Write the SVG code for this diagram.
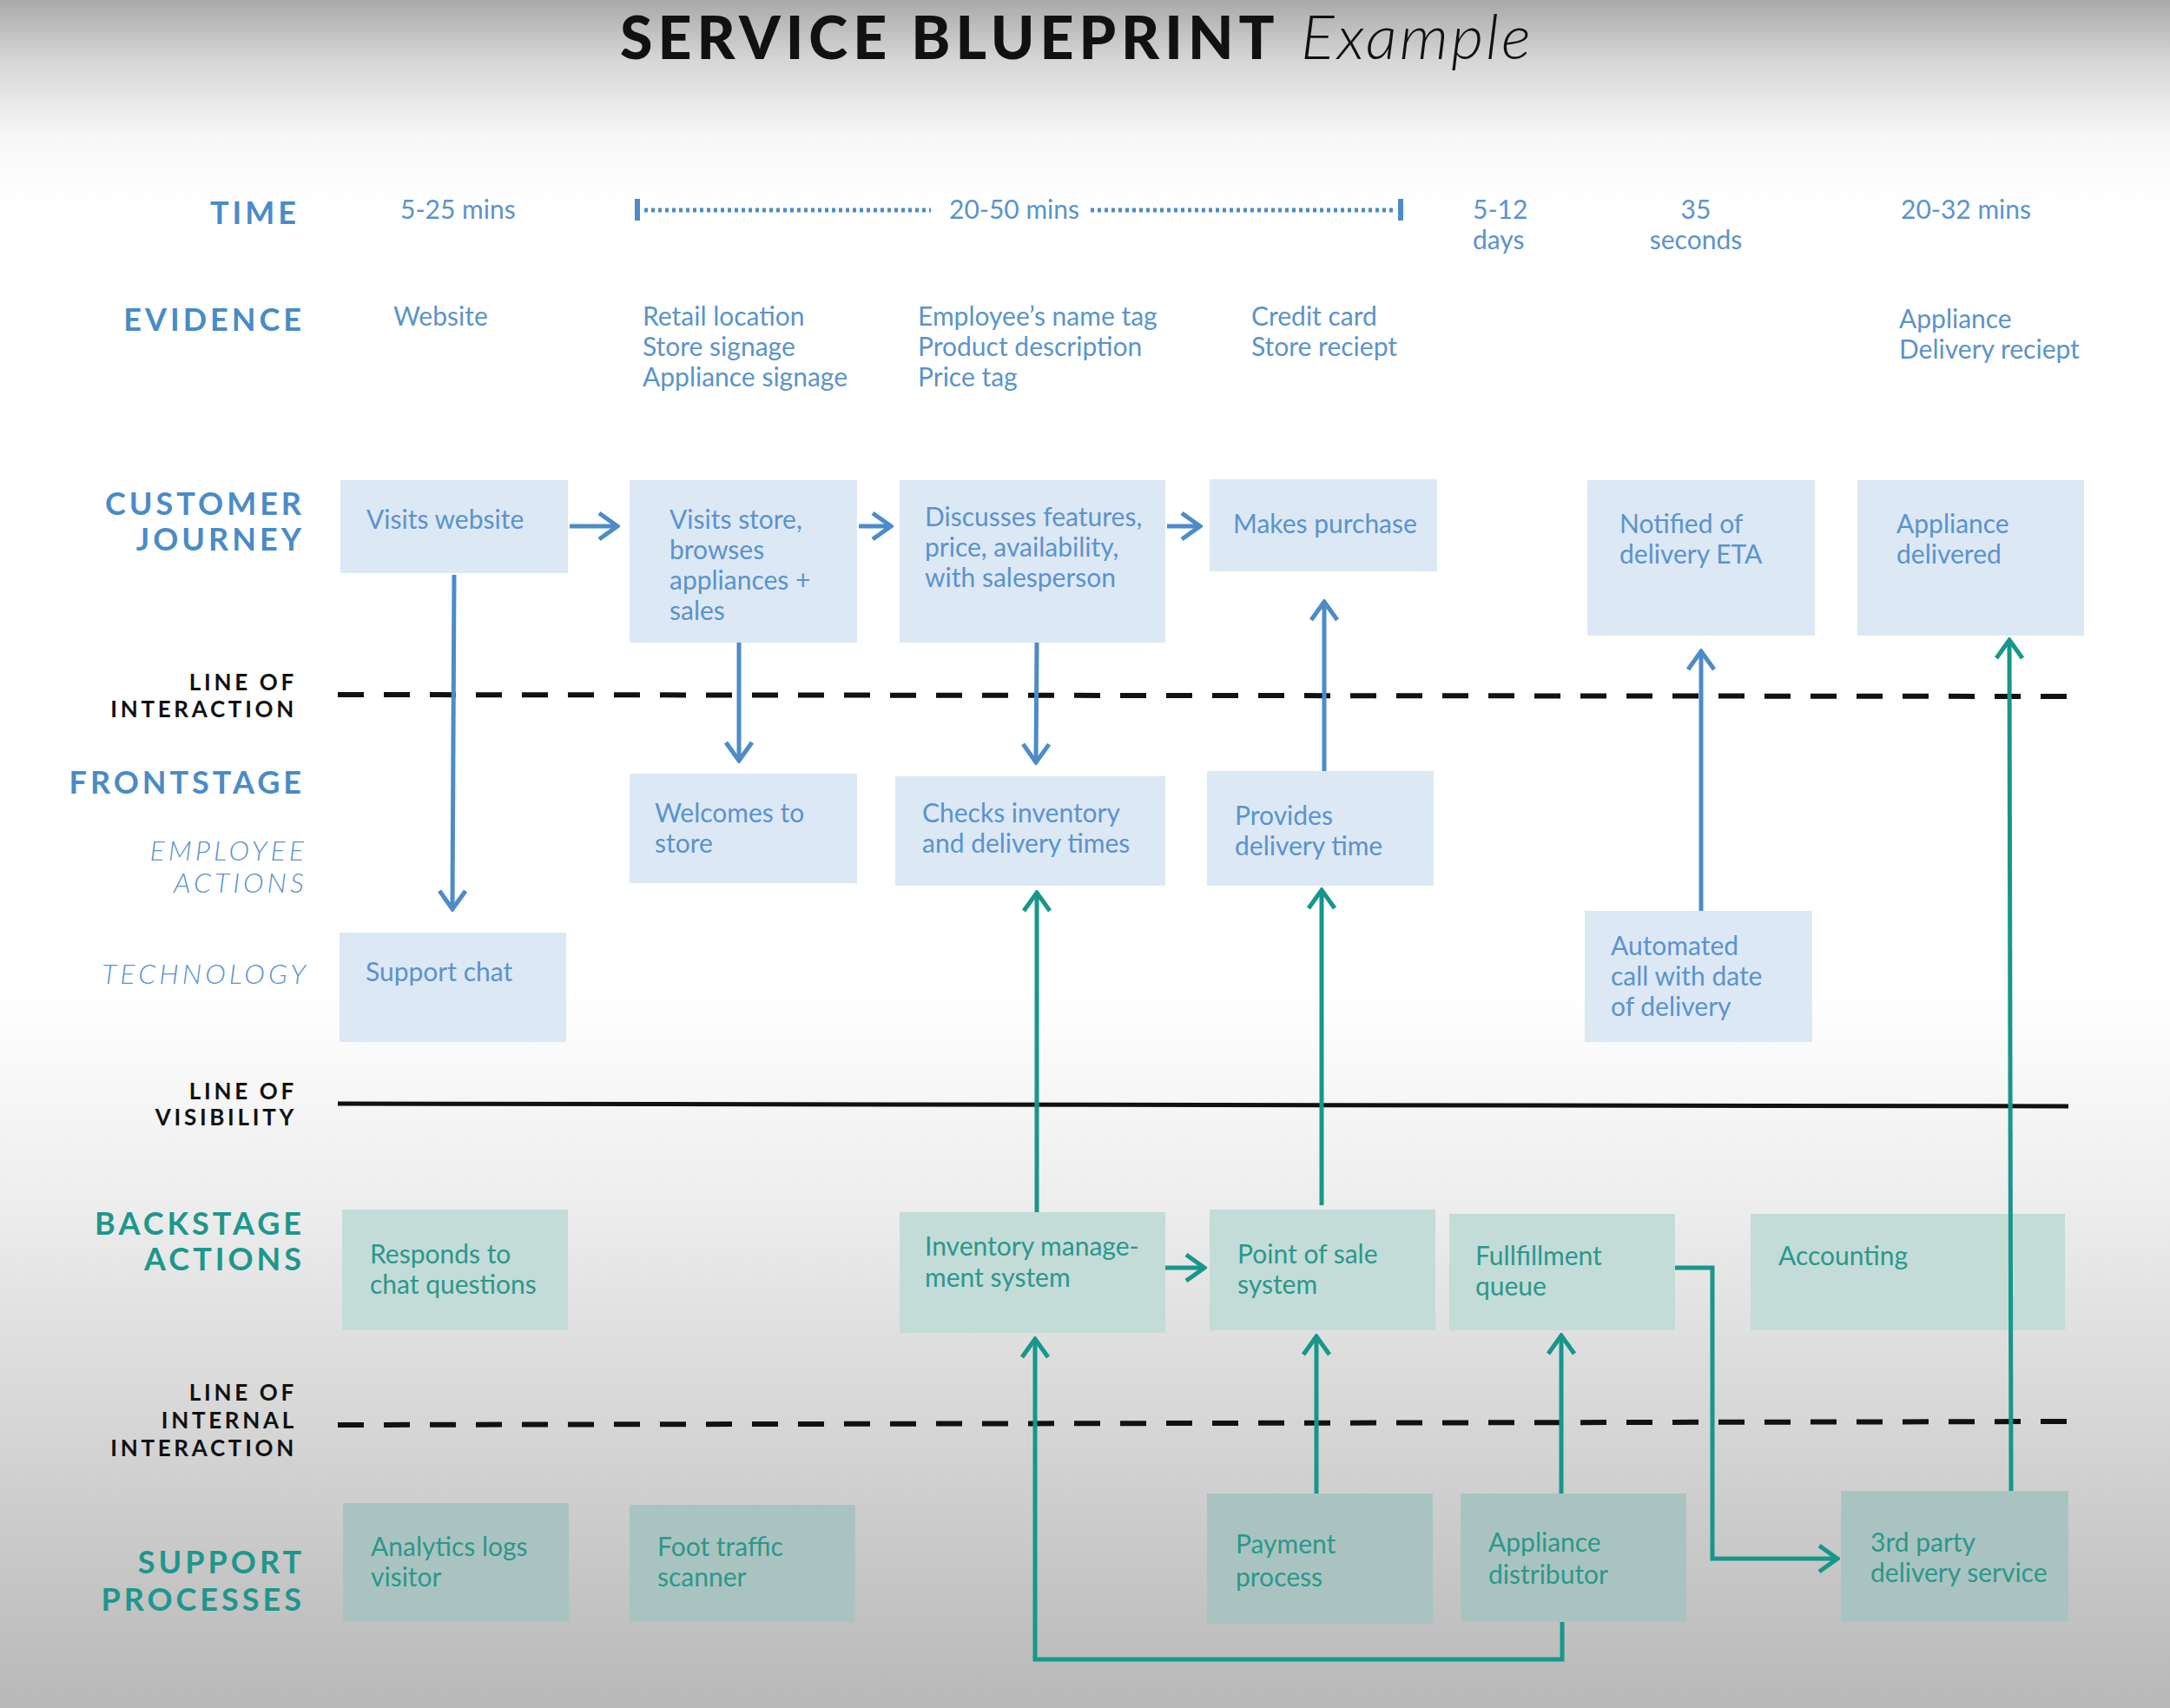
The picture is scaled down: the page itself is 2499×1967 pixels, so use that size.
<svg xmlns="http://www.w3.org/2000/svg" width="2499" height="1967" viewBox="0 0 2499 1967">
<defs>
<linearGradient id="bg" x1="0" y1="0" x2="0" y2="1">
<stop offset="0" stop-color="#a9a9a9"/>
<stop offset="0.035" stop-color="#d6d6d6"/>
<stop offset="0.08" stop-color="#f7f7f7"/>
<stop offset="0.12" stop-color="#ffffff"/>
<stop offset="0.58" stop-color="#ffffff"/>
<stop offset="0.7" stop-color="#eeeeee"/>
<stop offset="1" stop-color="#b8b8b8"/>
</linearGradient>
<marker id="ab" viewBox="0 0 28 36" refX="25" refY="18" markerWidth="28" markerHeight="36" markerUnits="userSpaceOnUse" orient="auto">
<path d="M4,3 L25,18 L4,33" fill="none" stroke="#4d8bc9" stroke-width="5"/>
</marker>
<marker id="at" viewBox="0 0 28 36" refX="25" refY="18" markerWidth="28" markerHeight="36" markerUnits="userSpaceOnUse" orient="auto">
<path d="M4,3 L25,18 L4,33" fill="none" stroke="#17978a" stroke-width="5"/>
</marker>
</defs>
<style>
text{font-family:Lato,"Open Sans","Liberation Sans",sans-serif}
.sec{font-weight:700;font-size:36px;letter-spacing:4px;text-anchor:end}
.blue{fill:#4a8bc7}
.teal{fill:#1d978b}
.line{font-weight:700;font-size:26px;letter-spacing:3.7px;text-anchor:end;fill:#111}
.sub{font-weight:300;font-style:italic;font-size:32px;letter-spacing:4px;text-anchor:end;fill:#5b93cc}
.val{font-size:30px;fill:#5b93cc}
.bb{fill:#dce8f4}
.bt{fill:#c3dcd8}
.bs{fill:#a9c4c0}
.tb{font-size:30px;fill:#5b93cc}
.tt{font-size:30px;fill:#2c978c}
.cb{fill:none;stroke:#4d8bc9;stroke-width:5}
.ct{fill:none;stroke:#17978a;stroke-width:5}
.dash{fill:none;stroke:#111;stroke-width:6;stroke-dasharray:30 23}
.dots{stroke:#4d8bc9;stroke-width:5;stroke-dasharray:4 4}
</style>
<rect x="0" y="0" width="2499" height="1967" fill="url(#bg)"/>

<g id="title">
<text x="714" y="68" font-size="68" font-weight="900" letter-spacing="6" fill="#111">SERVICE BLUEPRINT</text>
<text x="1498" y="68" font-size="72" font-weight="300" font-style="italic" letter-spacing="3" fill="#111">Example</text>
</g>

<g id="labels">
<text class="sec blue" x="345" y="258">TIME</text>
<text class="sec blue" x="351" y="381">EVIDENCE</text>
<text class="sec blue" x="351" y="593">CUSTOMER</text>
<text class="sec blue" x="351" y="634">JOURNEY</text>
<text class="line" x="342" y="795">LINE OF</text>
<text class="line" x="342" y="826">INTERACTION</text>
<text class="sec blue" x="351" y="914">FRONTSTAGE</text>
<text class="sub" x="354" y="991">EMPLOYEE</text>
<text class="sub" x="354" y="1028">ACTIONS</text>
<text class="sub" x="356" y="1133">TECHNOLOGY</text>
<text class="line" x="342" y="1266">LINE OF</text>
<text class="line" x="342" y="1296">VISIBILITY</text>
<text class="sec teal" x="351" y="1422">BACKSTAGE</text>
<text class="sec teal" x="351" y="1463">ACTIONS</text>
<text class="line" x="342" y="1613">LINE OF</text>
<text class="line" x="342" y="1645">INTERNAL</text>
<text class="line" x="342" y="1677">INTERACTION</text>
<text class="sec teal" x="351" y="1812">SUPPORT</text>
<text class="sec teal" x="351" y="1855">PROCESSES</text>
</g>

<g id="time">
<text class="val" x="461" y="252">5-25 mins</text>
<line x1="734" y1="229" x2="734" y2="254" stroke="#4d8bc9" stroke-width="6"/>
<line class="dots" x1="742" y1="242" x2="1072" y2="242"/>
<text class="val" x="1093" y="252">20-50 mins</text>
<line class="dots" x1="1256" y1="242" x2="1608" y2="242"/>
<line x1="1613" y1="229" x2="1613" y2="254" stroke="#4d8bc9" stroke-width="6"/>
<text class="val" x="1696" y="252">5-12</text>
<text class="val" x="1696" y="287">days</text>
<text class="val" x="1953" y="252" text-anchor="middle">35</text>
<text class="val" x="1953" y="287" text-anchor="middle">seconds</text>
<text class="val" x="2189" y="252">20-32 mins</text>
</g>

<g id="evidence">
<text class="val" x="453" y="375">Website</text>
<text class="val" x="740" y="375">Retail location</text>
<text class="val" x="740" y="410">Store signage</text>
<text class="val" x="740" y="445">Appliance signage</text>
<text class="val" x="1057" y="375">Employee’s name tag</text>
<text class="val" x="1057" y="410">Product description</text>
<text class="val" x="1057" y="445">Price tag</text>
<text class="val" x="1441" y="375">Credit card</text>
<text class="val" x="1441" y="410">Store reciept</text>
<text class="val" x="2187" y="378">Appliance</text>
<text class="val" x="2187" y="413">Delivery reciept</text>
</g>

<g id="lines">
<line class="dash" x1="389" y1="800" x2="2384" y2="802"/>
<line x1="389" y1="1271" x2="2382" y2="1274" stroke="#111" stroke-width="5"/>
<line class="dash" x1="389" y1="1641" x2="2384" y2="1637"/>
</g>

<g id="visits-website"><rect class="bb" x="392" y="553" width="262" height="107"/><text class="tb" x="422" y="609">Visits website</text></g>
<g id="visits-store"><rect class="bb" x="725" y="553" width="262" height="187"/><text class="tb" x="771" y="609">Visits store,</text><text class="tb" x="771" y="644">browses</text><text class="tb" x="771" y="679">appliances +</text><text class="tb" x="771" y="714">sales</text></g>
<g id="discusses"><rect class="bb" x="1036" y="553" width="306" height="187"/><text class="tb" x="1065" y="606">Discusses features,</text><text class="tb" x="1065" y="641">price, availability,</text><text class="tb" x="1065" y="676">with salesperson</text></g>
<g id="makes-purchase"><rect class="bb" x="1393" y="552" width="262" height="106"/><text class="tb" x="1420" y="614">Makes purchase</text></g>
<g id="notified"><rect class="bb" x="1828" y="553" width="262" height="179"/><text class="tb" x="1865" y="614">Notified of</text><text class="tb" x="1865" y="649">delivery ETA</text></g>
<g id="appliance-delivered"><rect class="bb" x="2139" y="553" width="261" height="179"/><text class="tb" x="2184" y="614">Appliance</text><text class="tb" x="2184" y="649">delivered</text></g>

<g id="welcomes"><rect class="bb" x="725" y="891" width="262" height="126"/><text class="tb" x="754" y="947">Welcomes to</text><text class="tb" x="754" y="982">store</text></g>
<g id="checks-inventory"><rect class="bb" x="1031" y="894" width="311" height="126"/><text class="tb" x="1062" y="947">Checks inventory</text><text class="tb" x="1062" y="982">and delivery times</text></g>
<g id="provides-delivery"><rect class="bb" x="1390" y="888" width="261" height="132"/><text class="tb" x="1422" y="950">Provides</text><text class="tb" x="1422" y="985">delivery time</text></g>

<g id="support-chat"><rect class="bb" x="391" y="1074" width="261" height="126"/><text class="tb" x="421" y="1130">Support chat</text></g>
<g id="automated-call"><rect class="bb" x="1825" y="1049" width="262" height="151"/><text class="tb" x="1855" y="1100">Automated</text><text class="tb" x="1855" y="1135">call with date</text><text class="tb" x="1855" y="1170">of delivery</text></g>

<g id="responds-chat"><rect class="bt" x="394" y="1393" width="260" height="139"/><text class="tt" x="426" y="1455">Responds to</text><text class="tt" x="426" y="1490">chat questions</text></g>
<g id="inventory-system"><rect class="bt" x="1036" y="1396" width="306" height="139"/><text class="tt" x="1065" y="1446">Inventory manage-</text><text class="tt" x="1065" y="1482">ment system</text></g>
<g id="point-of-sale"><rect class="bt" x="1393" y="1393" width="260" height="139"/><text class="tt" x="1425" y="1455">Point of sale</text><text class="tt" x="1425" y="1490">system</text></g>
<g id="fulfillment"><rect class="bt" x="1669" y="1398" width="260" height="134"/><text class="tt" x="1699" y="1457">Fullfillment</text><text class="tt" x="1699" y="1492">queue</text></g>
<g id="accounting"><rect class="bt" x="2016" y="1398" width="362" height="134"/><text class="tt" x="2048" y="1457">Accounting</text></g>

<g id="analytics"><rect class="bs" x="395" y="1731" width="260" height="137"/><text class="tt" x="427" y="1792">Analytics logs</text><text class="tt" x="427" y="1827">visitor</text></g>
<g id="foot-traffic"><rect class="bs" x="725" y="1733" width="260" height="135"/><text class="tt" x="757" y="1792">Foot traffic</text><text class="tt" x="757" y="1827">scanner</text></g>
<g id="payment"><rect class="bs" x="1390" y="1720" width="260" height="150"/><text class="tt" x="1423" y="1789">Payment</text><text class="tt" x="1423" y="1827">process</text></g>
<g id="distributor"><rect class="bs" x="1682" y="1720" width="260" height="148"/><text class="tt" x="1714" y="1787">Appliance</text><text class="tt" x="1714" y="1824">distributor</text></g>
<g id="third-party"><rect class="bs" x="2120" y="1717" width="262" height="151"/><text class="tt" x="2154" y="1787">3rd party</text><text class="tt" x="2154" y="1822">delivery service</text></g>

<g id="connectors">
<line class="cb" x1="656" y1="606" x2="711" y2="606" marker-end="url(#ab)"/>
<line class="cb" x1="989" y1="606" x2="1026" y2="606" marker-end="url(#ab)"/>
<line class="cb" x1="1344" y1="606" x2="1382" y2="606" marker-end="url(#ab)"/>
<line class="cb" x1="523" y1="662" x2="521" y2="1047" marker-end="url(#ab)"/>
<line class="cb" x1="851" y1="740" x2="851" y2="876" marker-end="url(#ab)"/>
<line class="cb" x1="1194" y1="740" x2="1193" y2="878" marker-end="url(#ab)"/>
<line class="cb" x1="1525" y1="888" x2="1525" y2="693" marker-end="url(#ab)"/>
<line class="cb" x1="1959" y1="1049" x2="1959" y2="750" marker-end="url(#ab)"/>
<line class="ct" x1="2316" y1="1717" x2="2314" y2="737" marker-end="url(#at)"/>
<line class="ct" x1="1194" y1="1396" x2="1194" y2="1028" marker-end="url(#at)"/>
<line class="ct" x1="1522" y1="1388" x2="1522" y2="1025" marker-end="url(#at)"/>
<line class="ct" x1="1342" y1="1460" x2="1387" y2="1460" marker-end="url(#at)"/>
<line class="ct" x1="1516" y1="1720" x2="1516" y2="1539" marker-end="url(#at)"/>
<line class="ct" x1="1798" y1="1720" x2="1798" y2="1538" marker-end="url(#at)"/>
<polyline class="ct" points="1929,1460 1972,1460 1972,1795 2116,1795" marker-end="url(#at)"/>
<polyline class="ct" points="1799,1868 1799,1911 1192,1911 1192,1542" marker-end="url(#at)"/>
</g>
</svg>
